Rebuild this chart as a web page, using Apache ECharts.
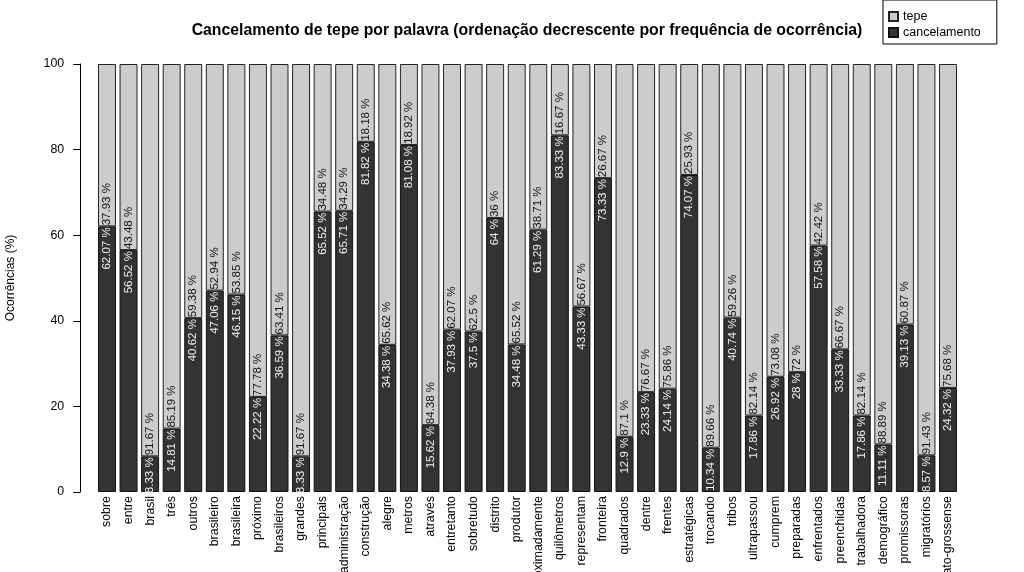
<!DOCTYPE html>
<html>
<head>
<meta charset="utf-8">
<script src="https://cdn.jsdelivr.net/npm/echarts@6/dist/echarts.min.js"></script>
<style>
  html, body { margin: 0; padding: 0; background: #fff; }
  #chart { width: 1024px; height: 572px; }
</style>
</head>
<body>
<div id="chart"></div>
<script>
const categories = ["sobre","entre","brasil","três","outros","brasileiro","brasileira","próximo","brasileiros","grandes","principais","administração","construção","alegre","metros","através","entretanto","sobretudo","distrito","produtor","aproximadamente","quilômetros","representam","fronteira","quadrados","dentre","frentes","estratégicas","trocando","tribos","ultrapassou","cumprem","preparadas","enfrentados","preenchidas","trabalhadora","demográfico","promissoras","migratórios","mato-grossense"];
const cancelamento = [62.07,56.52,8.33,14.81,40.62,47.06,46.15,22.22,36.59,8.33,65.52,65.71,81.82,34.38,81.08,15.62,37.93,37.5,64,34.48,61.29,83.33,43.33,73.33,12.9,23.33,24.14,74.07,10.34,40.74,17.86,26.92,28,57.58,33.33,17.86,11.11,39.13,8.57,24.32];
const tepe = [37.93,43.48,91.67,85.19,59.38,52.94,53.85,77.78,63.41,91.67,34.48,34.29,18.18,65.62,18.92,84.38,62.07,62.5,36,65.52,38.71,16.67,56.67,26.67,87.1,76.67,75.86,25.93,89.66,59.26,82.14,73.08,72,42.42,66.67,82.14,88.89,60.87,91.43,75.68];
const yTicks = [0, 20, 40, 60, 80, 100];

const FONT = "'Liberation Sans', Arial, Helvetica, sans-serif";
const chart = echarts.init(document.getElementById('chart'), null, { renderer: 'canvas' });

chart.setOption({
  animation: false,
  backgroundColor: '#ffffff',
  textStyle: { fontFamily: FONT, color: '#000' },
  title: {
    text: 'Cancelamento de tepe por palavra (ordenação decrescente por frequência de ocorrência)',
    left: 527,
    textAlign: 'center',
    top: 23,
    padding: 0,
    textStyle: { fontFamily: FONT, fontSize: 15.8, fontWeight: 'bold', color: '#000' }
  },
  legend: {
    data: ['tepe', 'cancelamento'],
    orient: 'vertical',
    left: 883,
    top: 0,
    padding: [10, 16, 5, 5],
    itemGap: 3,
    itemWidth: 9,
    itemHeight: 9,
    icon: 'rect',
    borderColor: '#000',
    borderWidth: 1,
    borderRadius: 0,
    backgroundColor: '#fff',
    textStyle: { fontFamily: FONT, fontSize: 12.5, color: '#000' }
  },
  grid: { left: 96.2, right: 65.2, top: 64, bottom: 80, containLabel: false, outerBoundsMode: 'none' },
  xAxis: {
    type: 'category',
    data: categories,
    axisLine: { show: false },
    axisTick: { show: false },
    axisLabel: {
      interval: 0,
      rotate: 90,
      margin: 4,
      fontSize: 12.4,
      color: '#000',
      fontFamily: FONT,
      hideOverlap: false
    }
  },
  yAxis: {
    type: 'value',
    min: yTicks[0],
    max: yTicks[yTicks.length - 1],
    interval: 20,
    offset: 16,
    name: 'Ocorrências (%)',
    nameLocation: 'middle',
    nameGap: 64,
    nameTextStyle: { fontSize: 12, color: '#000', fontFamily: FONT },
    axisLine: { show: true, lineStyle: { color: '#000', width: 1 } },
    axisTick: { show: true, length: 7, lineStyle: { color: '#000' } },
    axisLabel: { fontSize: 12.4, color: '#000', margin: 16, fontFamily: FONT },
    splitLine: { show: false }
  },
  series: [
    {
      name: 'cancelamento',
      type: 'bar',
      stack: 'total',
      data: cancelamento,
      barCategoryGap: '16.67%',
      itemStyle: { color: '#333333', borderColor: '#111', borderWidth: 1 },
      label: {
        show: true,
        position: 'insideTop',
        distance: 1,
        rotate: 90,
        align: 'right',
        verticalAlign: 'middle',
        fontSize: 11.5,
        color: '#f2f2f2',
        fontFamily: FONT,
        formatter: p => p.value + ' %'
      }
    },
    {
      name: 'tepe',
      type: 'bar',
      stack: 'total',
      data: tepe,
      barCategoryGap: '16.67%',
      itemStyle: { color: '#cccccc', borderColor: '#222', borderWidth: 1 },
      label: {
        show: true,
        position: 'insideBottom',
        distance: 1,
        rotate: 90,
        align: 'left',
        verticalAlign: 'middle',
        fontSize: 11.5,
        color: '#111',
        fontFamily: FONT,
        formatter: p => p.value + ' %'
      }
    }
  ]
});
</script>
</body>
</html>
